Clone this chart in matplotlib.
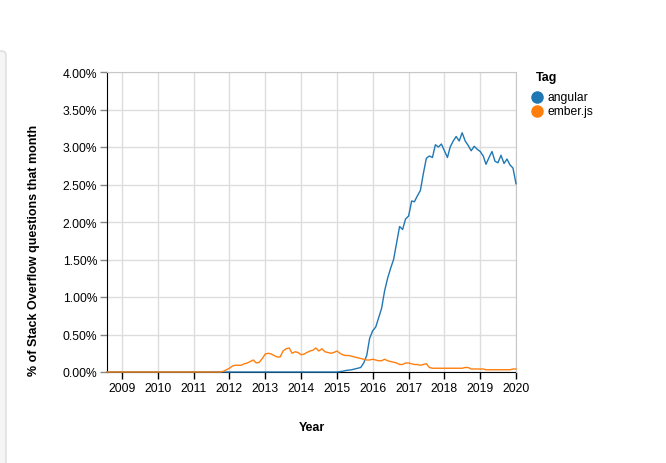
import pandas as pd
import matplotlib
matplotlib.use("Agg")
import matplotlib.pyplot as plt
import matplotlib.dates as mdates
from matplotlib.patches import FancyBboxPatch
from matplotlib.lines import Line2D
from matplotlib.ticker import FuncFormatter, MultipleLocator

months = pd.date_range("2008-08-01", "2020-01-01", freq="MS")

# % of questions per month
angular = ([0.0] * 77 +  # 2008-08 .. 2014-12
           [0.0, 0.005, 0.01, 0.02, 0.025, 0.03, 0.04, 0.05, 0.06, 0.12, 0.22, 0.45,   # 2015
            0.55, 0.60, 0.72, 0.85, 1.08, 1.25, 1.38, 1.50, 1.72, 1.94, 1.90, 2.04,    # 2016
            2.08, 2.28, 2.27, 2.35, 2.42, 2.65, 2.85, 2.88, 2.86, 3.03, 3.00, 3.04,    # 2017
            2.95, 2.86, 3.00, 3.08, 3.14, 3.08, 3.19, 3.08, 3.02, 2.95, 3.01, 2.97,    # 2018
            2.94, 2.88, 2.77, 2.86, 2.94, 2.81, 2.79, 2.89, 2.78, 2.84, 2.76, 2.72,    # 2019
            2.51])                                                                    # 2020-01

ember = ([0.0] * 39 +  # 2008-08 .. 2011-10
         [0.01, 0.03] +  # 2011-11, 2011-12
         [0.05, 0.08, 0.09, 0.09, 0.09, 0.11, 0.12, 0.14, 0.16, 0.12, 0.13, 0.18,   # 2012
          0.24, 0.25, 0.24, 0.22, 0.20, 0.20, 0.28, 0.31, 0.32, 0.25, 0.27, 0.26,   # 2013
          0.23, 0.24, 0.26, 0.28, 0.29, 0.32, 0.28, 0.31, 0.27, 0.26, 0.25, 0.26,   # 2014
          0.28, 0.25, 0.23, 0.22, 0.22, 0.21, 0.20, 0.19, 0.18, 0.17, 0.16, 0.16,   # 2015
          0.17, 0.16, 0.15, 0.15, 0.17, 0.15, 0.14, 0.13, 0.12, 0.10, 0.10, 0.12,   # 2016
          0.12, 0.11, 0.10, 0.10, 0.09, 0.10, 0.11, 0.06, 0.05, 0.05, 0.05, 0.05,   # 2017
          0.05, 0.05, 0.05, 0.05, 0.05, 0.05, 0.05, 0.06, 0.06, 0.04, 0.04, 0.04,   # 2018
          0.04, 0.04, 0.03, 0.03, 0.03, 0.03, 0.03, 0.03, 0.03, 0.03, 0.03, 0.04,   # 2019
          0.04])                                                                    # 2020-01

tags = ["angular", "ember.js"]
colors = ["#1f77b4", "#ff7f0e"]

plt.rcParams["font.family"] = ["Liberation Sans", "DejaVu Sans"]

W, H = 666, 464
fig = plt.figure(figsize=(W / 100, H / 100), dpi=100)

# light side panel at the left edge
fig.patches.append(FancyBboxPatch((-20 / W, -20 / H), 26 / W, (H - 52 + 20) / H,
                                  boxstyle="round,pad=0,rounding_size=0.008",
                                  transform=fig.transFigure, facecolor="#f5f5f5",
                                  edgecolor="#dcdcdc", linewidth=1))

ax = fig.add_axes([107 / W, (H - 373) / H, (516 - 107) / W, (373 - 73) / H])

for vals, tag, c in zip([angular, ember], tags, colors):
    ax.plot(months, vals, color=c, linewidth=1, label=tag, zorder=3, clip_on=False)

ax.set_xlim(months[0], pd.Timestamp("2020-01-01"))
ax.set_ylim(0, 4.0)
ax.yaxis.set_major_locator(MultipleLocator(0.5))
ax.yaxis.set_major_formatter(FuncFormatter(lambda v, p: f"{v:.2f}%"))
ax.xaxis.set_major_locator(mdates.YearLocator())
ax.xaxis.set_major_formatter(mdates.DateFormatter("%Y"))

ax.grid(True, color="#dddddd", linewidth=1)
ax.set_axisbelow(True)
for s in ["top", "right"]:
    ax.spines[s].set_color("#c8c8c8")
for s in ["left", "bottom"]:
    ax.spines[s].set_color("black")
    ax.spines[s].set_zorder(2)
ax.tick_params(axis="both", labelsize=8.7, length=5, color="#888888", width=1, pad=2)
ax.tick_params(axis="x", color="black")

fig.text(311.5 / W, 1 - 428 / H, "Year", fontsize=9, fontweight="bold",
         ha="center", va="center")
fig.text(34 / W, 1 - 250 / H, "% of Stack Overflow questions that month", fontsize=9,
         fontweight="bold", rotation=90, ha="center", va="center")

# legend
fig.text(536 / W, 1 - 78 / H, "Tag", fontsize=9, fontweight="bold", ha="left", va="center")
for i, (t, c) in enumerate(zip(tags, colors)):
    yy = 1 - (98 + 13.5 * i) / H
    fig.add_artist(Line2D([537 / W], [yy], marker="o", markersize=8, color=c,
                          linestyle="", transform=fig.transFigure))
    fig.text(548 / W, yy, t, fontsize=8.7, ha="left", va="center")

fig.savefig("out.png", dpi=100)
